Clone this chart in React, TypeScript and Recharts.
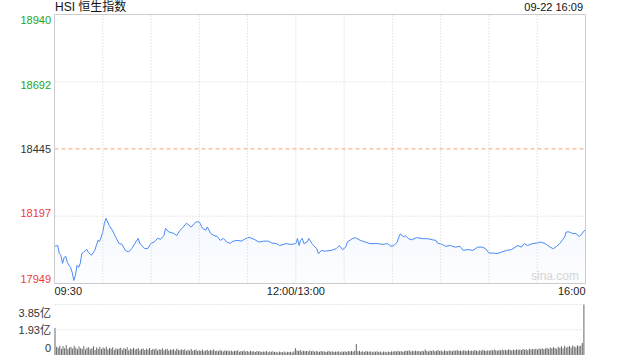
import { Area, Bar, BarChart, ComposedChart, ReferenceLine, XAxis, YAxis } from "recharts";

// minutes after 09:30 (lunch break removed, 330 = 16:00)
const priceMinutes = [
  0, 2, 3, 4, 5, 6, 7, 8, 9, 10,
  11, 12, 13, 14, 15, 16, 17, 18, 20, 21,
  23, 25, 26, 27, 28, 29, 30, 31, 32, 34,
  36, 38, 40, 42, 44, 46, 48, 50, 52, 53,
  56, 58, 60, 62, 64, 66, 68, 69, 71, 74,
  76, 78, 80, 82, 85, 87, 88, 90, 92, 94,
  95, 97, 99, 101, 103, 105, 107, 109, 111, 114,
  116, 119, 121, 124, 127, 130, 133, 135, 138, 140,
  144, 147, 150, 151, 152, 153, 154, 155, 157, 158,
  160, 161, 163, 164, 166, 168, 172, 175, 177, 179,
  181, 182, 185, 187, 190, 193, 196, 201, 204, 207,
  209, 211, 213, 214, 215, 217, 218, 220, 222, 225,
  229, 232, 235, 237, 238, 241, 243, 246, 249, 252,
  254, 257, 260, 263, 266, 268, 270, 273, 275, 278,
  281, 284, 288, 290, 292, 294, 297, 300, 302, 305,
  308, 310, 312, 314, 317, 318, 320, 322, 324, 326,
  327, 329, 330,
];

const prices = [
  18086, 18089, 18060, 18052, 18023, 18045, 18049, 18027, 18016, 18008,
  17990, 17960, 17979, 18016, 18008, 18023, 18060, 18064, 18075, 18064,
  18053, 18071, 18089, 18108, 18104, 18120, 18139, 18171, 18189, 18163,
  18145, 18120, 18097, 18093, 18071, 18065, 18078, 18097, 18115, 18097,
  18078, 18078, 18097, 18102, 18115, 18112, 18126, 18152, 18139, 18134,
  18126, 18145, 18157, 18171, 18157, 18171, 18176, 18176, 18152, 18145,
  18157, 18134, 18126, 18123, 18108, 18115, 18102, 18097, 18105, 18108,
  18105, 18115, 18119, 18112, 18102, 18105, 18105, 18098, 18096, 18089,
  18096, 18093, 18096, 18115, 18089, 18108, 18115, 18096, 18102, 18115,
  18096, 18089, 18077, 18059, 18071, 18068, 18071, 18077, 18089, 18074,
  18083, 18102, 18114, 18118, 18108, 18102, 18096, 18096, 18093, 18096,
  18086, 18089, 18102, 18120, 18132, 18120, 18126, 18114, 18110, 18118,
  18114, 18114, 18110, 18108, 18098, 18093, 18086, 18089, 18083, 18086,
  18071, 18074, 18071, 18083, 18083, 18077, 18061, 18061, 18059, 18065,
  18071, 18074, 18089, 18083, 18096, 18089, 18096, 18098, 18102, 18096,
  18083, 18077, 18086, 18096, 18120, 18139, 18139, 18133, 18133, 18123,
  18126, 18142, 18148,
];

// turnover per minute, 亿
const volumes = [
  2.05, 0.62, 0.55, 0.71, 0.48, 0.66, 0.52, 0.74, 0.45, 0.58,
  0.61, 0.49, 0.70, 0.56, 0.43, 0.64, 0.51, 0.47, 0.68, 0.42,
  0.55, 0.60, 0.44, 0.52, 0.66, 0.39, 0.57, 0.48, 0.62, 0.45,
  0.58, 0.50, 0.63, 0.41, 0.54, 0.47, 0.59, 0.38, 0.52, 0.44,
  0.49, 0.56, 0.40, 0.53, 0.46, 0.60, 0.37, 0.50, 0.43, 0.55,
  0.41, 0.48, 0.52, 0.36, 0.45, 0.50, 0.39, 0.47, 0.42, 0.53,
  0.38, 0.46, 0.41, 0.49, 0.35, 0.44, 0.40, 0.51, 0.37, 0.43,
  0.47, 0.34, 0.42, 0.39, 0.45, 0.33, 0.48, 0.40, 0.36, 0.44,
  0.38, 0.43, 0.31, 0.40, 0.35, 0.46, 0.32, 0.39, 0.42, 0.30,
  0.37, 0.33, 0.41, 0.29, 0.36, 0.40, 0.31, 0.38, 0.34, 0.42,
  0.30, 0.35, 0.28, 0.39, 0.33, 0.27, 0.36, 0.31, 0.34, 0.29,
  0.35, 0.26, 0.32, 0.30, 0.37, 0.25, 0.31, 0.28, 0.34, 0.27,
  0.30, 0.24, 0.33, 0.27, 0.29, 0.23, 0.31, 0.26, 0.28, 0.22,
  0.27, 0.25, 0.30, 0.21, 0.26, 0.24, 0.29, 0.22, 0.25, 0.20,
  0.26, 0.23, 0.21, 0.27, 0.19, 0.24, 0.22, 0.25, 0.20, 0.28,
  0.52, 0.35, 0.30, 0.38, 0.27, 0.33, 0.29, 0.31, 0.26, 0.34,
  0.28, 0.32, 0.25, 0.30, 0.27, 0.24, 0.31, 0.26, 0.29, 0.23,
  0.27, 0.30, 0.25, 0.28, 0.22, 0.26, 0.24, 0.29, 0.21, 0.27,
  0.25, 0.28, 0.23, 0.31, 0.27, 0.30, 0.26, 0.33, 0.84, 0.29,
  0.32, 0.25, 0.28, 0.22, 0.30, 0.26, 0.24, 0.29, 0.21, 0.27,
  0.25, 0.28, 0.22, 0.26, 0.20, 0.27, 0.24, 0.21, 0.26, 0.23,
  0.28, 0.24, 0.30, 0.26, 0.33, 0.27, 0.31, 0.25, 0.29, 0.34,
  0.30, 0.36, 0.27, 0.32, 0.29, 0.35, 0.28, 0.31, 0.26, 0.33,
  0.29, 0.41, 0.31, 0.27, 0.34, 0.30, 0.36, 0.28, 0.32, 0.38,
  0.30, 0.34, 0.27, 0.36, 0.31, 0.29, 0.35, 0.33, 0.28, 0.37,
  0.32, 0.38, 0.30, 0.35, 0.29, 0.37, 0.33, 0.31, 0.36, 0.30,
  0.34, 0.31, 0.38, 0.33, 0.29, 0.36, 0.32, 0.40, 0.35, 0.31,
  0.37, 0.33, 0.39, 0.34, 0.41, 0.36, 0.32, 0.38, 0.35, 0.42,
  0.36, 0.40, 0.34, 0.43, 0.38, 0.35, 0.41, 0.37, 0.44, 0.39,
  0.42, 0.38, 0.46, 0.40, 0.44, 0.37, 0.48, 0.41, 0.45, 0.43,
  0.47, 0.42, 0.50, 0.45, 0.52, 0.44, 0.49, 0.55, 0.46, 0.58,
  0.51, 0.60, 0.54, 0.48, 0.63, 0.56, 0.66, 0.52, 0.70, 0.58,
  0.62, 0.68, 0.57, 0.72, 0.64, 0.60, 0.75, 0.66, 0.71, 0.92,
  3.85,
];

const prevClose = 18445;
const priceTicks = [18940, 18692, 18445, 18197, 17949];
const pctLabels = ["+2.69%", "+1.34%", "0.00%", "-1.34%", "-2.69%"];
const timeTicks = [0, 150, 330];
const timeLabels = ["09:30", "12:00/13:00", "16:00"];
const gridMinutes = [30, 60, 90, 120, 150, 180, 210, 240, 270, 300];
const volTicks = [3.85, 1.93, 0];
const volLabels = ["3.85亿", "1.93亿", "0"];

const priceData = priceMinutes.map((m, i) => ({ m, p: prices[i] }));
const volData = volumes.map((v, i) => ({ m: i, v }));

const FONT = '"Liberation Sans", Arial, "Noto Sans CJK SC", sans-serif';
const GREEN = "#1ca61c";
const RED = "#f03a3a";
const GRID = "#d0d0d0";

function tickColor(v: number) {
  if (v > prevClose) return GREEN;
  if (v < prevClose) return RED;
  return "#333";
}

// labels are squeezed inside the plot at top and bottom
const priceShift = [5.5, 3, 0, -3, -5];

function LeftTick(props: any) {
  const { y, payload } = props;
  const i = priceTicks.indexOf(payload.value);
  return (
    <text x={51} y={y + (priceShift[i] ?? 0)} textAnchor="end" dominantBaseline="central"
      fontSize={11} fontFamily={FONT} fill={tickColor(payload.value)}>
      {payload.value}
    </text>
  );
}

function RightTick(props: any) {
  const { y, payload } = props;
  const i = priceTicks.indexOf(payload.value);
  return (
    <text x={590} y={y + (priceShift[i] ?? 0)} textAnchor="start" dominantBaseline="central"
      fontSize={11} fontFamily={FONT} fill={tickColor(payload.value)}>
      {pctLabels[i]}
    </text>
  );
}

function TimeTick(props: any) {
  const { x, payload } = props;
  const i = timeTicks.indexOf(payload.value);
  const anchor = i === 0 ? "start" : i === timeTicks.length - 1 ? "end" : "middle";
  return (
    <text x={x} y={291} textAnchor={anchor} dominantBaseline="central"
      fontSize={11} fontFamily={FONT} fill="#222">
      {timeLabels[i]}
    </text>
  );
}

const volShift = [8, 0, -7];

function VolTick(props: any) {
  const { y, payload } = props;
  const i = volTicks.indexOf(payload.value);
  return (
    <text x={51} y={y + (volShift[i] ?? 0)} textAnchor="end" dominantBaseline="central"
      fontSize={11} fontFamily={FONT} fill="#333">
      {volLabels[i]}
    </text>
  );
}

export default function App() {
  return (
    <div style={{ position: "absolute", left: 0, top: 0, width: 640, height: 360, background: "#fff", fontFamily: FONT }}>
      <div style={{ position: "absolute", left: 55, top: 0, fontSize: 12, lineHeight: "14px", color: "#111" }}>
        HSI 恒生指数
      </div>
      <div style={{ position: "absolute", right: 57, top: 0, fontSize: 11, lineHeight: "14px", color: "#111" }}>
        09-22 16:09
      </div>

      <div style={{ position: "absolute", left: 0, top: 0 }}>
        <ComposedChart width={640} height={300} data={priceData}
          margin={{ top: 14.5, right: 0, bottom: 0, left: 0 }}>
          <defs>
            <linearGradient id="priceFill" x1="0" y1="0" x2="0" y2="1">
              <stop offset="0%" stopColor="#4a8af4" stopOpacity={0.1} />
              <stop offset="100%" stopColor="#4a8af4" stopOpacity={0.02} />
            </linearGradient>
          </defs>
          <XAxis dataKey="m" type="number" domain={[0, 330]} ticks={timeTicks}
            height={16.5} tickLine={false} axisLine={false} tick={<TimeTick />} interval={0} />
          <YAxis yAxisId="left" type="number" domain={[17949, 18940]} ticks={priceTicks}
            width={54.5} tickLine={false} axisLine={false} tick={<LeftTick />} interval={0} />
          <YAxis yAxisId="right" orientation="right" type="number" domain={[17949, 18940]}
            ticks={priceTicks} width={54.5} tickLine={false} axisLine={false} tick={<RightTick />} interval={0} />
          {gridMinutes.map((m) => (
            <ReferenceLine key={m} yAxisId="left" x={m} stroke={GRID} strokeDasharray="1 2" />
          ))}
          <ReferenceLine yAxisId="left" y={18692} stroke={GRID} strokeDasharray="1 2" />
          <ReferenceLine yAxisId="left" y={18197} stroke={GRID} strokeDasharray="1 2" />
          <ReferenceLine yAxisId="left" y={prevClose} stroke="#f5a56e" strokeDasharray="4 3" />
          <Area yAxisId="left" type="linear" dataKey="p" stroke="#4a8af4" strokeWidth={1}
            fill="url(#priceFill)" dot={false} activeDot={false} isAnimationActive={false} />
          <ReferenceLine yAxisId="left" y={18940} stroke="#cccccc" />
          <ReferenceLine yAxisId="left" y={17949} stroke="#cccccc" />
          <ReferenceLine yAxisId="left" x={0} stroke="#cccccc" />
          <ReferenceLine yAxisId="left" x={330} stroke="#cccccc" />
        </ComposedChart>
      </div>

      <div style={{ position: "absolute", left: 531, top: 270, fontSize: 12, lineHeight: "12px", color: "#d4d4d4" }}>
        sina.com
      </div>

      <div style={{ position: "absolute", left: 0, top: 296 }}>
        <BarChart width={640} height={64} data={volData}
          margin={{ top: 8.5, right: 55, bottom: 5, left: 0 }}>
          <XAxis dataKey="m" hide />
          <YAxis type="number" domain={[0, 3.85]} ticks={volTicks} width={54.5}
            tickLine={false} axisLine={false} tick={<VolTick />} interval={0} />
          <ReferenceLine y={3.85} stroke={GRID} strokeDasharray="1 2" />
          <ReferenceLine y={1.93} stroke={GRID} strokeDasharray="1 2" />
          <Bar dataKey="v" fill="#666" barSize={1} isAnimationActive={false} />
        </BarChart>
      </div>
    </div>
  );
}
